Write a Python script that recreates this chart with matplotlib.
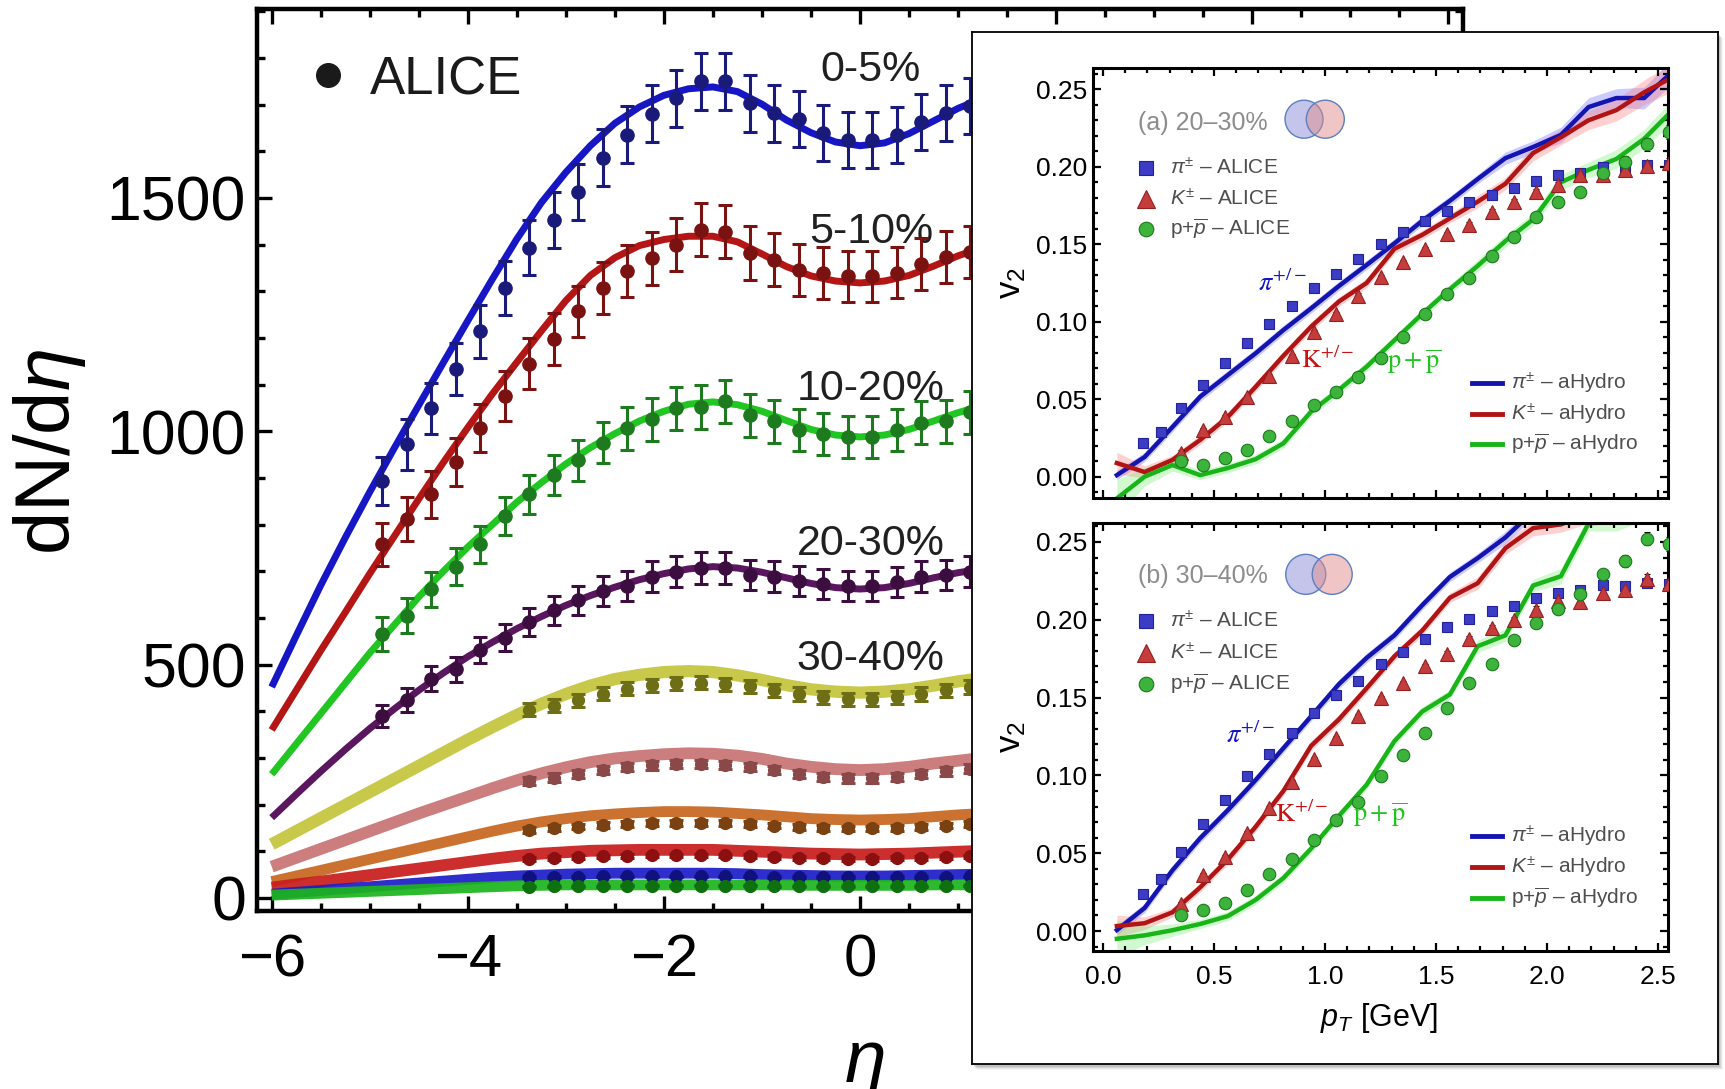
import numpy as np
import matplotlib
matplotlib.use('Agg')
import matplotlib.pyplot as plt
from matplotlib.patches import Ellipse, Rectangle
from matplotlib.ticker import MultipleLocator, FormatStrFormatter, FuncFormatter

plt.rcParams['font.family'] = ['Liberation Sans', 'DejaVu Sans']
plt.rcParams['mathtext.fontset'] = 'custom'
plt.rcParams['mathtext.rm'] = 'Liberation Sans'
plt.rcParams['mathtext.it'] = 'Liberation Sans:italic'
plt.rcParams['mathtext.bf'] = 'Liberation Sans:bold'

# ------------------------------------------------------------------ data
ETA_CURVE = [-6.0, -5.75, -5.5, -5.25, -5.0, -4.75, -4.5, -4.25, -4.0, -3.75, -3.5,
             -3.25, -3.0, -2.75, -2.5, -2.25, -2.0, -1.75, -1.5, -1.25, -1.0,
             -0.75, -0.5, -0.25, 0.0, 0.25, 0.5, 0.75, 1.0, 1.25, 1.5]
ETA_DATA_LONG = [-4.875, -4.625, -4.375, -4.125, -3.875, -3.625, -3.375, -3.125, -2.875,
                 -2.625, -2.375, -2.125, -1.875, -1.625, -1.375, -1.125, -0.875, -0.625,
                 -0.375, -0.125, 0.125, 0.375, 0.625, 0.875, 1.125]
ETA_DATA_SHORT = [-3.375, -3.125, -2.875, -2.625, -2.375, -2.125, -1.875, -1.625, -1.375,
                  -1.125, -0.875, -0.625, -0.375, -0.125, 0.125, 0.375, 0.625, 0.875, 1.125]

CENTRALITY = ['0-5%', '5-10%', '10-20%', '20-30%', '30-40%',
              '40-50%', '50-60%', '60-70%', '70-80%', '80-90%']

curve_0_5 = [452, 562, 670, 772, 870, 964, 1056, 1147, 1237, 1326, 1412, 1490, 1555, 1612,
             1660, 1695, 1720, 1734, 1738, 1728, 1701, 1667, 1640, 1620, 1612, 1618, 1638,
             1665, 1692, 1714, 1730]
curve_5_10 = [360, 445, 530, 612, 695, 775, 855, 933, 1008, 1080, 1148, 1215, 1280, 1334,
              1372, 1398, 1411, 1418, 1418, 1406, 1380, 1353, 1333, 1322, 1318, 1322, 1334,
              1354, 1376, 1394, 1406]
curve_10_20 = [265, 330, 395, 460, 525, 585, 645, 700, 752, 800, 848, 890, 930, 965, 995,
               1022, 1043, 1058, 1063, 1057, 1043, 1023, 1004, 992, 988, 992, 1004, 1022,
               1040, 1055, 1065]
curve_20_30 = [172, 222, 271, 318, 363, 405, 445, 482, 517, 548, 577, 603, 627, 648, 666,
               682, 695, 705, 710, 707, 698, 686, 674, 665, 662, 665, 674, 686, 697, 705, 711]
curve_30_40 = [115, 143, 171, 199, 227, 255, 283, 311, 339, 366, 392, 416, 437, 455, 469,
               478, 484, 486, 484, 477, 467, 456, 447, 442, 440, 442, 447, 455, 464, 471, 476]
curve_40_50 = [67, 86, 105, 124, 143, 162, 181, 199, 217, 235, 252, 267, 280, 291, 299, 304,
               308, 310, 309, 305, 298, 288, 281, 276, 274, 276, 281, 288, 294, 300, 304]
curve_50_60 = [35, 47, 59, 71, 83, 95, 107, 119, 131, 143, 154, 163, 170, 176, 180, 183, 185,
               185, 184, 181, 178, 174, 170, 168, 167, 168, 170, 174, 178, 181, 183]
curve_60_70 = [22, 29, 35, 42, 49, 56, 63, 70, 77, 84, 90, 95, 98, 101, 102, 103, 103, 103,
               103, 101, 99, 97, 95, 94, 93, 94, 95, 97, 99, 101, 102]
curve_70_80 = [8, 12, 16, 20, 24, 28, 32, 36, 40, 44, 47, 49, 51, 52, 53, 53, 53, 53, 53, 52,
               50, 49, 48, 47, 47, 47, 48, 49, 50, 51, 52]
curve_80_90 = [6, 8, 10, 12, 14, 16, 18, 20, 22, 24, 26, 27, 28, 28, 28, 28, 28, 28, 28, 28,
               28, 28, 27, 27, 27, 27, 27, 28, 28, 28, 28]

data_0_5 = [893, 972, 1049, 1133, 1214, 1308, 1393, 1452, 1512, 1586, 1636, 1681, 1714,
            1750, 1750, 1703, 1682, 1670, 1639, 1625, 1625, 1636, 1662, 1683, 1698]
err_0_5 = [52, 54, 55, 56, 57, 58, 59, 60, 60, 61, 61, 61, 61, 61, 61, 61, 61, 60, 60, 60,
           60, 60, 60, 60, 60]
data_5_10 = [758, 812, 865, 934, 1007, 1076, 1145, 1198, 1257, 1307, 1343, 1371, 1400, 1432,
             1428, 1382, 1368, 1346, 1340, 1332, 1332, 1340, 1359, 1374, 1385]
err_5_10 = [46, 48, 50, 51, 52, 53, 54, 55, 55, 56, 56, 57, 57, 57, 57, 57, 56, 56, 56, 55,
            55, 55, 56, 56, 56]
data_10_20 = [565, 605, 661, 710, 758, 819, 865, 907, 938, 976, 1007, 1026, 1049, 1053, 1064,
              1034, 1022, 1003, 995, 988, 988, 1003, 1018, 1022, 1041]
err_10_20 = [36, 37, 38, 39, 40, 41, 42, 43, 44, 45, 46, 46, 47, 47, 47, 46, 46, 45, 45, 45,
             45, 45, 46, 46, 46]
data_20_30 = [390, 424, 470, 490, 531, 558, 592, 616, 638, 657, 669, 688, 699, 707, 707, 692,
              688, 680, 673, 669, 669, 677, 688, 692, 699]
err_20_30 = [24, 25, 26, 27, 28, 29, 30, 31, 31, 32, 32, 33, 33, 34, 34, 33, 33, 32, 32, 32,
             32, 32, 33, 33, 33]
data_30_40 = [403, 412, 424, 438, 448, 456, 460, 461, 458, 454, 445, 437, 430, 426, 426, 430,
              437, 445, 452]
err_30_40 = [14] * 19
data_40_50 = [250, 258, 265, 274, 280, 284, 287, 287, 285, 280, 274, 265, 259, 256, 256, 259,
              265, 271, 277]
err_40_50 = [9] * 19
data_50_60 = [146, 150, 153, 156, 158, 160, 161, 161, 160, 158, 155, 152, 150, 149, 149, 150,
              152, 155, 158]
err_50_60 = [6] * 19
data_60_70 = [84, 86, 88, 89, 90, 91, 91, 91, 91, 90, 88, 86, 85, 84, 84, 85, 86, 88, 89]
err_60_70 = [4] * 19
data_70_80 = [44, 45, 45, 46, 46, 46, 46, 46, 46, 46, 45, 45, 44, 44, 44, 44, 45, 45, 46]
err_70_80 = [2] * 19
data_80_90 = [24, 25, 25, 25, 26, 26, 26, 26, 26, 26, 25, 25, 25, 25, 25, 25, 25, 25, 26]
err_80_90 = [1] * 19

# v2 inset data
PT_PI = [0.18, 0.26, 0.35, 0.45, 0.55, 0.65, 0.75, 0.85, 0.95, 1.05, 1.15, 1.25, 1.35, 1.45,
         1.55, 1.65, 1.75, 1.85, 1.95, 2.05, 2.15, 2.25, 2.35, 2.45, 2.55]
PT_KP = [0.35, 0.45, 0.55, 0.65, 0.75, 0.85, 0.95, 1.05, 1.15, 1.25, 1.35, 1.45, 1.55, 1.65,
         1.75, 1.85, 1.95, 2.05, 2.15, 2.25, 2.35, 2.45, 2.55]
PT_MODEL = [0.0625, 0.1875, 0.3125, 0.4375, 0.5625, 0.6875, 0.8125, 0.9375, 1.0625, 1.1875,
            1.3125, 1.4375, 1.5625, 1.6875, 1.8125, 1.9375, 2.0625, 2.1875, 2.3125, 2.4375,
            2.5625]

v2_pi_a = [0.0215, 0.029, 0.0445, 0.059, 0.0735, 0.086, 0.0985, 0.110, 0.1215, 0.131, 0.1405,
           0.150, 0.158, 0.165, 0.1713, 0.177, 0.182, 0.186, 0.1906, 0.1945, 0.1958, 0.1998,
           0.199, 0.201, 0.201]
v2_k_a = [0.0155, 0.030, 0.0387, 0.0516, 0.065, 0.0778, 0.0935, 0.105, 0.1168, 0.1286, 0.1383,
          0.1467, 0.1563, 0.1624, 0.1707, 0.1771, 0.1835, 0.188, 0.1945, 0.1945, 0.1977,
          0.2003, 0.2022]
v2_p_a = [0.0101, 0.0075, 0.0118, 0.0172, 0.0262, 0.0359, 0.0462, 0.0548, 0.0645, 0.0768,
          0.0903, 0.105, 0.1176, 0.128, 0.1424, 0.1544, 0.1675, 0.177, 0.184, 0.1958, 0.203,
          0.2145, 0.2223]
v2_pi_b = [0.024, 0.0335, 0.0509, 0.0685, 0.0845, 0.0999, 0.1137, 0.1272, 0.140, 0.1514,
           0.1608, 0.1719, 0.1794, 0.1874, 0.1953, 0.2004, 0.2057, 0.2091, 0.2137, 0.2173,
           0.219, 0.2224, 0.2214, 0.2234, 0.2229]
v2_k_b = [0.0173, 0.0359, 0.0475, 0.0632, 0.0789, 0.0958, 0.1108, 0.1243, 0.1381, 0.1497,
          0.1594, 0.170, 0.178, 0.1876, 0.1949, 0.1997, 0.2065, 0.2122, 0.2113, 0.2171, 0.219,
          0.2263, 0.2227]
v2_p_b = [0.010, 0.0132, 0.018, 0.0262, 0.0364, 0.0463, 0.0588, 0.0716, 0.083, 0.0999, 0.1134,
          0.1272, 0.1434, 0.1594, 0.1717, 0.1869, 0.198, 0.2069, 0.2166, 0.2294, 0.2376,
          0.2521, 0.2485]
err_pi = [0.0006, 0.0006, 0.0006, 0.0006, 0.0006, 0.0006, 0.0006, 0.0006, 0.0007, 0.0007,
          0.0007, 0.0008, 0.0008, 0.0008, 0.0009, 0.0009, 0.0010, 0.0010, 0.0011, 0.0012,
          0.0013, 0.0014, 0.0015, 0.0016, 0.0017]
err_k = [0.0015, 0.0012, 0.0012, 0.0012, 0.0012, 0.0012, 0.0013, 0.0013, 0.0014, 0.0015,
         0.0015, 0.0016, 0.0017, 0.0018, 0.0019, 0.0020, 0.0022, 0.0024, 0.0026, 0.0028,
         0.0030, 0.0032, 0.0035]
err_p = [0.0025, 0.0022, 0.0020, 0.0018, 0.0018, 0.0018, 0.0018, 0.0018, 0.0019, 0.0020,
         0.0021, 0.0022, 0.0023, 0.0024, 0.0025, 0.0026, 0.0028, 0.0030, 0.0032, 0.0035,
         0.0038, 0.0042, 0.0045]

model_pi_a = [0.001, 0.0127, 0.032, 0.0516, 0.0656, 0.0796, 0.0946, 0.1086, 0.123, 0.1366,
              0.1505, 0.165, 0.178, 0.192, 0.2055, 0.2127, 0.2205, 0.2385, 0.2443, 0.2443, 0.261]
model_k_a = [0.0088, 0.003, 0.0108, 0.0237, 0.0386, 0.058, 0.078, 0.0968, 0.113, 0.125, 0.147,
             0.156, 0.1667, 0.1774, 0.189, 0.2088, 0.219, 0.230, 0.2365, 0.248, 0.2575]
model_p_a = [-0.014, 0.0, 0.0075, 0.001, 0.0056, 0.0113, 0.0215, 0.042, 0.056, 0.071, 0.088,
             0.105, 0.121, 0.136, 0.152, 0.166, 0.190, 0.198, 0.205, 0.218, 0.236]
model_pi_b = [0.0006, 0.0148, 0.039, 0.0596, 0.0777, 0.097, 0.1175, 0.138, 0.1586, 0.1755,
              0.190, 0.2093, 0.2275, 0.2396, 0.2529, 0.2697, 0.28, 0.29, 0.30, 0.31, 0.32]
model_k_b = [0.0032, 0.005, 0.012, 0.028, 0.046, 0.067, 0.090, 0.119, 0.136, 0.156, 0.1765,
             0.193, 0.2142, 0.2235, 0.246, 0.2589, 0.2613, 0.268, 0.28, 0.29, 0.30]
model_p_b = [-0.005, -0.0028, 0.0005, 0.0045, 0.0096, 0.020, 0.034, 0.053, 0.074, 0.094, 0.122,
             0.141, 0.152, 0.183, 0.190, 0.222, 0.228, 0.262, 0.263, 0.27, 0.28]
band_pi = [0.003, 0.003, 0.003, 0.003, 0.003, 0.003, 0.003, 0.003, 0.003, 0.003, 0.003, 0.003,
           0.003, 0.003, 0.004, 0.004, 0.005, 0.006, 0.006, 0.007, 0.008]
band_k = [0.007, 0.004, 0.003, 0.003, 0.003, 0.003, 0.003, 0.003, 0.003, 0.003, 0.003, 0.003,
          0.003, 0.004, 0.004, 0.005, 0.005, 0.006, 0.007, 0.008, 0.009]
band_p = [0.012, 0.006, 0.004, 0.003, 0.003, 0.003, 0.003, 0.003, 0.003, 0.003, 0.003, 0.003,
          0.003, 0.004, 0.004, 0.004, 0.005, 0.005, 0.006, 0.006, 0.007]

# ------------------------------------------------------------------ figure
W, H = 1725, 1089
fig = plt.figure(figsize=(W / 100, H / 100), dpi=100)


def box(x0, y0, x1, y1):
    return [x0 / W, 1 - y1 / H, (x1 - x0) / W, (y1 - y0) / H]


ax = fig.add_axes(box(257, 9, 1463, 911))
ax.set_zorder(0)

curves = [curve_0_5, curve_5_10, curve_10_20, curve_20_30, curve_30_40,
          curve_40_50, curve_50_60, curve_60_70, curve_70_80, curve_80_90]
datas = [data_0_5, data_5_10, data_10_20, data_20_30, data_30_40,
         data_40_50, data_50_60, data_60_70, data_70_80, data_80_90]
errs = [err_0_5, err_5_10, err_10_20, err_20_30, err_30_40,
        err_40_50, err_50_60, err_60_70, err_70_80, err_80_90]
line_cols = ['#1616c4', '#b41616', '#22c622', '#5a165e', '#c4c43c',
             '#c87272', '#c8661e', '#c81c1c', '#1c1cc8', '#1cb41c']
data_cols = ['#1a1a7a', '#7a1212', '#1e7a1e', '#3c0e40', '#6e6e16',
             '#8a4848', '#7a4212', '#8c1010', '#10107e', '#0e700e']
line_w = [5.0, 5.0, 5.0, 5.0, 8.8, 8.5, 7.8, 8.5, 7.8, 7.8]

for i in range(10):
    ax.plot(ETA_CURVE, curves[i], color=line_cols[i], lw=line_w[i],
            solid_capstyle='butt', solid_joinstyle='round', zorder=2,
            alpha=1.0 if i < 4 else 0.92)
for i in range(10):
    eta = ETA_DATA_LONG if i < 4 else ETA_DATA_SHORT
    ax.errorbar(eta, datas[i], yerr=errs[i], fmt='o', color=data_cols[i],
                ms=9.5 if i < 4 else 8.5, elinewidth=2.2, capsize=5.2, capthick=2.2,
                zorder=3 + i)

ax.set_xlim(-6.15, 6.15)
ax.set_ylim(-28, 1905)
ax.xaxis.set_major_locator(MultipleLocator(2))
ax.xaxis.set_minor_locator(MultipleLocator(0.5))
ax.yaxis.set_major_locator(MultipleLocator(500))
ax.yaxis.set_minor_locator(MultipleLocator(100))
# labels of ticks hidden behind the inset are left empty
ax.xaxis.set_major_formatter(FuncFormatter(
    lambda v, p: '' if v > 1.2 else ('\u2212%d' % abs(v) if v < 0 else '%d' % v)))
ax.tick_params(which='both', direction='in', top=True, right=True, width=2.4)
ax.tick_params(which='major', length=11)
ax.tick_params(which='minor', length=6)
ax.tick_params(axis='y', labelsize=45, pad=8)
ax.tick_params(axis='x', labelsize=43, pad=16)
for s in ax.spines.values():
    s.set_linewidth(3.2)

for lab, yv in zip(CENTRALITY[:5], [1775, 1428, 1090, 758, 512]):
    ax.text(0.11, yv, lab, ha='center', va='center', fontsize=31, color='#202020')

ax.plot([0.0589], [0.927], 'o', transform=ax.transAxes, ms=17, color='#1a1a1a',
        clip_on=False)
ax.text(0.094, 0.921, 'ALICE', transform=ax.transAxes, fontsize=38, va='center',
        ha='left', color='#1a1a1a')

fig.text(50 / W, 1 - 452 / H, r'dN/d$\eta$', rotation=90, fontsize=56,
         ha='center', va='center')
fig.text(864 / W, 1 - 1030 / H, r'$\eta$', fontsize=54, ha='center', va='top')

# ------------------------------------------------------------------ inset box
for k, a in enumerate([0.10, 0.08, 0.06, 0.04]):
    fig.add_artist(Rectangle(((972 + 2 + k) / W, 1 - (1064 + 3 + k) / H),
                             (1718 - 972) / W, (1064 - 32) / H,
                             transform=fig.transFigure, facecolor='black',
                             edgecolor='none', alpha=a, zorder=1))
axb = fig.add_axes(box(972, 32, 1718, 1064))
axb.set_zorder(2)
axb.set_xticks([])
axb.set_yticks([])
for s in axb.spines.values():
    s.set_linewidth(1.3)
axb.set_facecolor('white')


def make_inset(rect, pi, kk, pp, mpi, mk, mp, title, venn, show_x, legpos):
    axi = fig.add_axes(rect)
    axi.set_zorder(3)
    for m, b, c, fc in [(mpi, band_pi, '#1414b0', '#6a6aff'),
                        (mk, band_k, '#b01414', '#ff7a7a'),
                        (mp, band_p, '#18b418', '#7aef7a')]:
        lo = [v - h for v, h in zip(m, b)]
        hi = [v + h for v, h in zip(m, b)]
        axi.fill_between(PT_MODEL, lo, hi, color=fc, alpha=0.35, lw=0, zorder=1)
        axi.plot(PT_MODEL, m, color=c, lw=3.2, zorder=2, solid_joinstyle='miter')
    axi.errorbar(PT_PI, pi, yerr=err_pi, fmt='s', ms=7.5, mfc='#3c3cc4', mec='#22229a',
                 mew=0.8, ecolor='black', elinewidth=1.2, capsize=2, capthick=1.2,
                 zorder=4)
    axi.errorbar(PT_KP, kk, yerr=err_k, fmt='^', ms=10, mfc='#c43c3c', mec='#962020',
                 mew=0.8, ecolor='black', elinewidth=1.2, capsize=2, capthick=1.2,
                 zorder=4)
    axi.errorbar(PT_KP, pp, yerr=err_p, fmt='o', ms=9, mfc='#3cb43c', mec='#1e781e',
                 mew=0.8, ecolor='black', elinewidth=1.2, capsize=2, capthick=1.2,
                 zorder=4)
    axi.set_xlim(-0.045, 2.545)
    axi.xaxis.set_major_locator(MultipleLocator(0.5))
    axi.xaxis.set_minor_locator(MultipleLocator(0.1))
    axi.yaxis.set_major_locator(MultipleLocator(0.05))
    axi.yaxis.set_minor_locator(MultipleLocator(0.01))
    axi.xaxis.set_major_formatter(FormatStrFormatter('%.1f'))
    axi.yaxis.set_major_formatter(FormatStrFormatter('%.2f'))
    axi.tick_params(which='both', direction='in', top=True, right=True, width=1.6)
    axi.tick_params(which='major', length=6)
    axi.tick_params(which='minor', length=3.5)
    axi.tick_params(axis='y', labelsize=19, pad=4)
    axi.tick_params(axis='x', labelsize=19, pad=10, labelbottom=show_x)
    for s in axi.spines.values():
        s.set_linewidth(2.2)
    axi.text(0.078, title[1], title[0], transform=axi.transAxes, fontsize=18,
             color='#8c8c8c', va='center', ha='left')
    (cx1, cx2, cy, ew, eh) = venn
    axi.add_patch(Ellipse((cx1, cy), ew, eh, transform=axi.transAxes,
                          facecolor=(0.55, 0.55, 0.85, 0.5), edgecolor='#5b7fc0', lw=1.0,
                          zorder=5))
    axi.add_patch(Ellipse((cx2, cy), ew, eh, transform=axi.transAxes,
                          facecolor=(0.88, 0.55, 0.55, 0.5), edgecolor='#5b7fc0', lw=1.0,
                          zorder=5))
    rows_top, rows_bot = legpos
    legm = [('s', 10, '#3c3cc4', '#22229a', r'$\pi^{\pm}$ – ALICE'),
            ('^', 13, '#c43c3c', '#962020', r'$K^{\pm}$ – ALICE'),
            ('o', 10.5, '#3cb43c', '#1e781e', r'p+$\overline{p}$ – ALICE')]
    for (mk_, ms_, fc_, ec_, lab), yy in zip(legm, rows_top):
        axi.plot([0.092], [yy], mk_, ms=ms_, mfc=fc_, mec=ec_, mew=0.8,
                 transform=axi.transAxes, zorder=6)
        axi.text(0.134, yy, lab, transform=axi.transAxes, fontsize=15, color='#4e4e4e',
                 va='center', ha='left')
    legl = [('#1414b0', r'$\pi^{\pm}$ – aHydro'), ('#b01414', r'$K^{\pm}$ – aHydro'),
            ('#18b418', r'p+$\overline{p}$ – aHydro')]
    for (c, lab), yy in zip(legl, rows_bot):
        axi.plot([0.659, 0.711], [yy, yy], color=c, lw=3.5, transform=axi.transAxes,
                 zorder=6)
        axi.text(0.727, yy, lab, transform=axi.transAxes, fontsize=15, color='#4e4e4e',
                 va='center', ha='left')
    return axi


axa = make_inset(box(1093, 68, 1668, 498.3), v2_pi_a, v2_k_a, v2_p_a,
                 model_pi_a, model_k_a, model_p_a, ('(a) 20–30%', 0.872),
                 (0.367, 0.404, 0.881, 0.0661, 0.0883), False,
                 ([0.768, 0.696, 0.626], [0.268, 0.196, 0.126]))
axa.set_ylim(-0.01394, 0.26368)
axbb = make_inset(box(1093, 523, 1668, 951), v2_pi_b, v2_k_b, v2_p_b,
                  model_pi_b, model_k_b, model_p_b, ('(b) 30–40%', 0.876),
                  (0.370, 0.416, 0.880, 0.0696, 0.0935), True,
                  ([0.771, 0.697, 0.624], [0.269, 0.196, 0.124]))
axbb.set_ylim(-0.01285, 0.2622)

# inset annotations
for axi, pos in [(axa, [(0.81, 0.125), (1.01, 0.0753), (1.40, 0.074)]),
                 (axbb, [(0.665, 0.126), (0.896, 0.075), (1.25, 0.075)])]:
    axi.text(pos[0][0], pos[0][1], r'$\pi^{+/-}$', color='#1414c8', fontsize=19,
             ha='center', va='center', math_fontfamily='stix', zorder=7)
    axi.text(pos[1][0], pos[1][1], r'$\mathrm{K}^{+/-}$', color='#c81414', fontsize=19,
             ha='center', va='center', math_fontfamily='stix', zorder=7)
    axi.text(pos[2][0], pos[2][1], r'$\mathrm{p+\overline{p}}$', color='#22c422',
             fontsize=19, ha='center', va='center', math_fontfamily='stix', zorder=7)

for yc in [283, 737]:
    t = fig.text(1012 / W, 1 - yc / H, r'$\mathregular{v_2}$', rotation=90, fontsize=25,
                 ha='center', va='center')
    t.set_zorder(4)
t = fig.text(1379 / W, 1 - 1018 / H, r'$p_T$ [GeV]', fontsize=22, ha='center',
             va='center')
t.set_zorder(4)

fig.savefig('out.png', dpi=100)
